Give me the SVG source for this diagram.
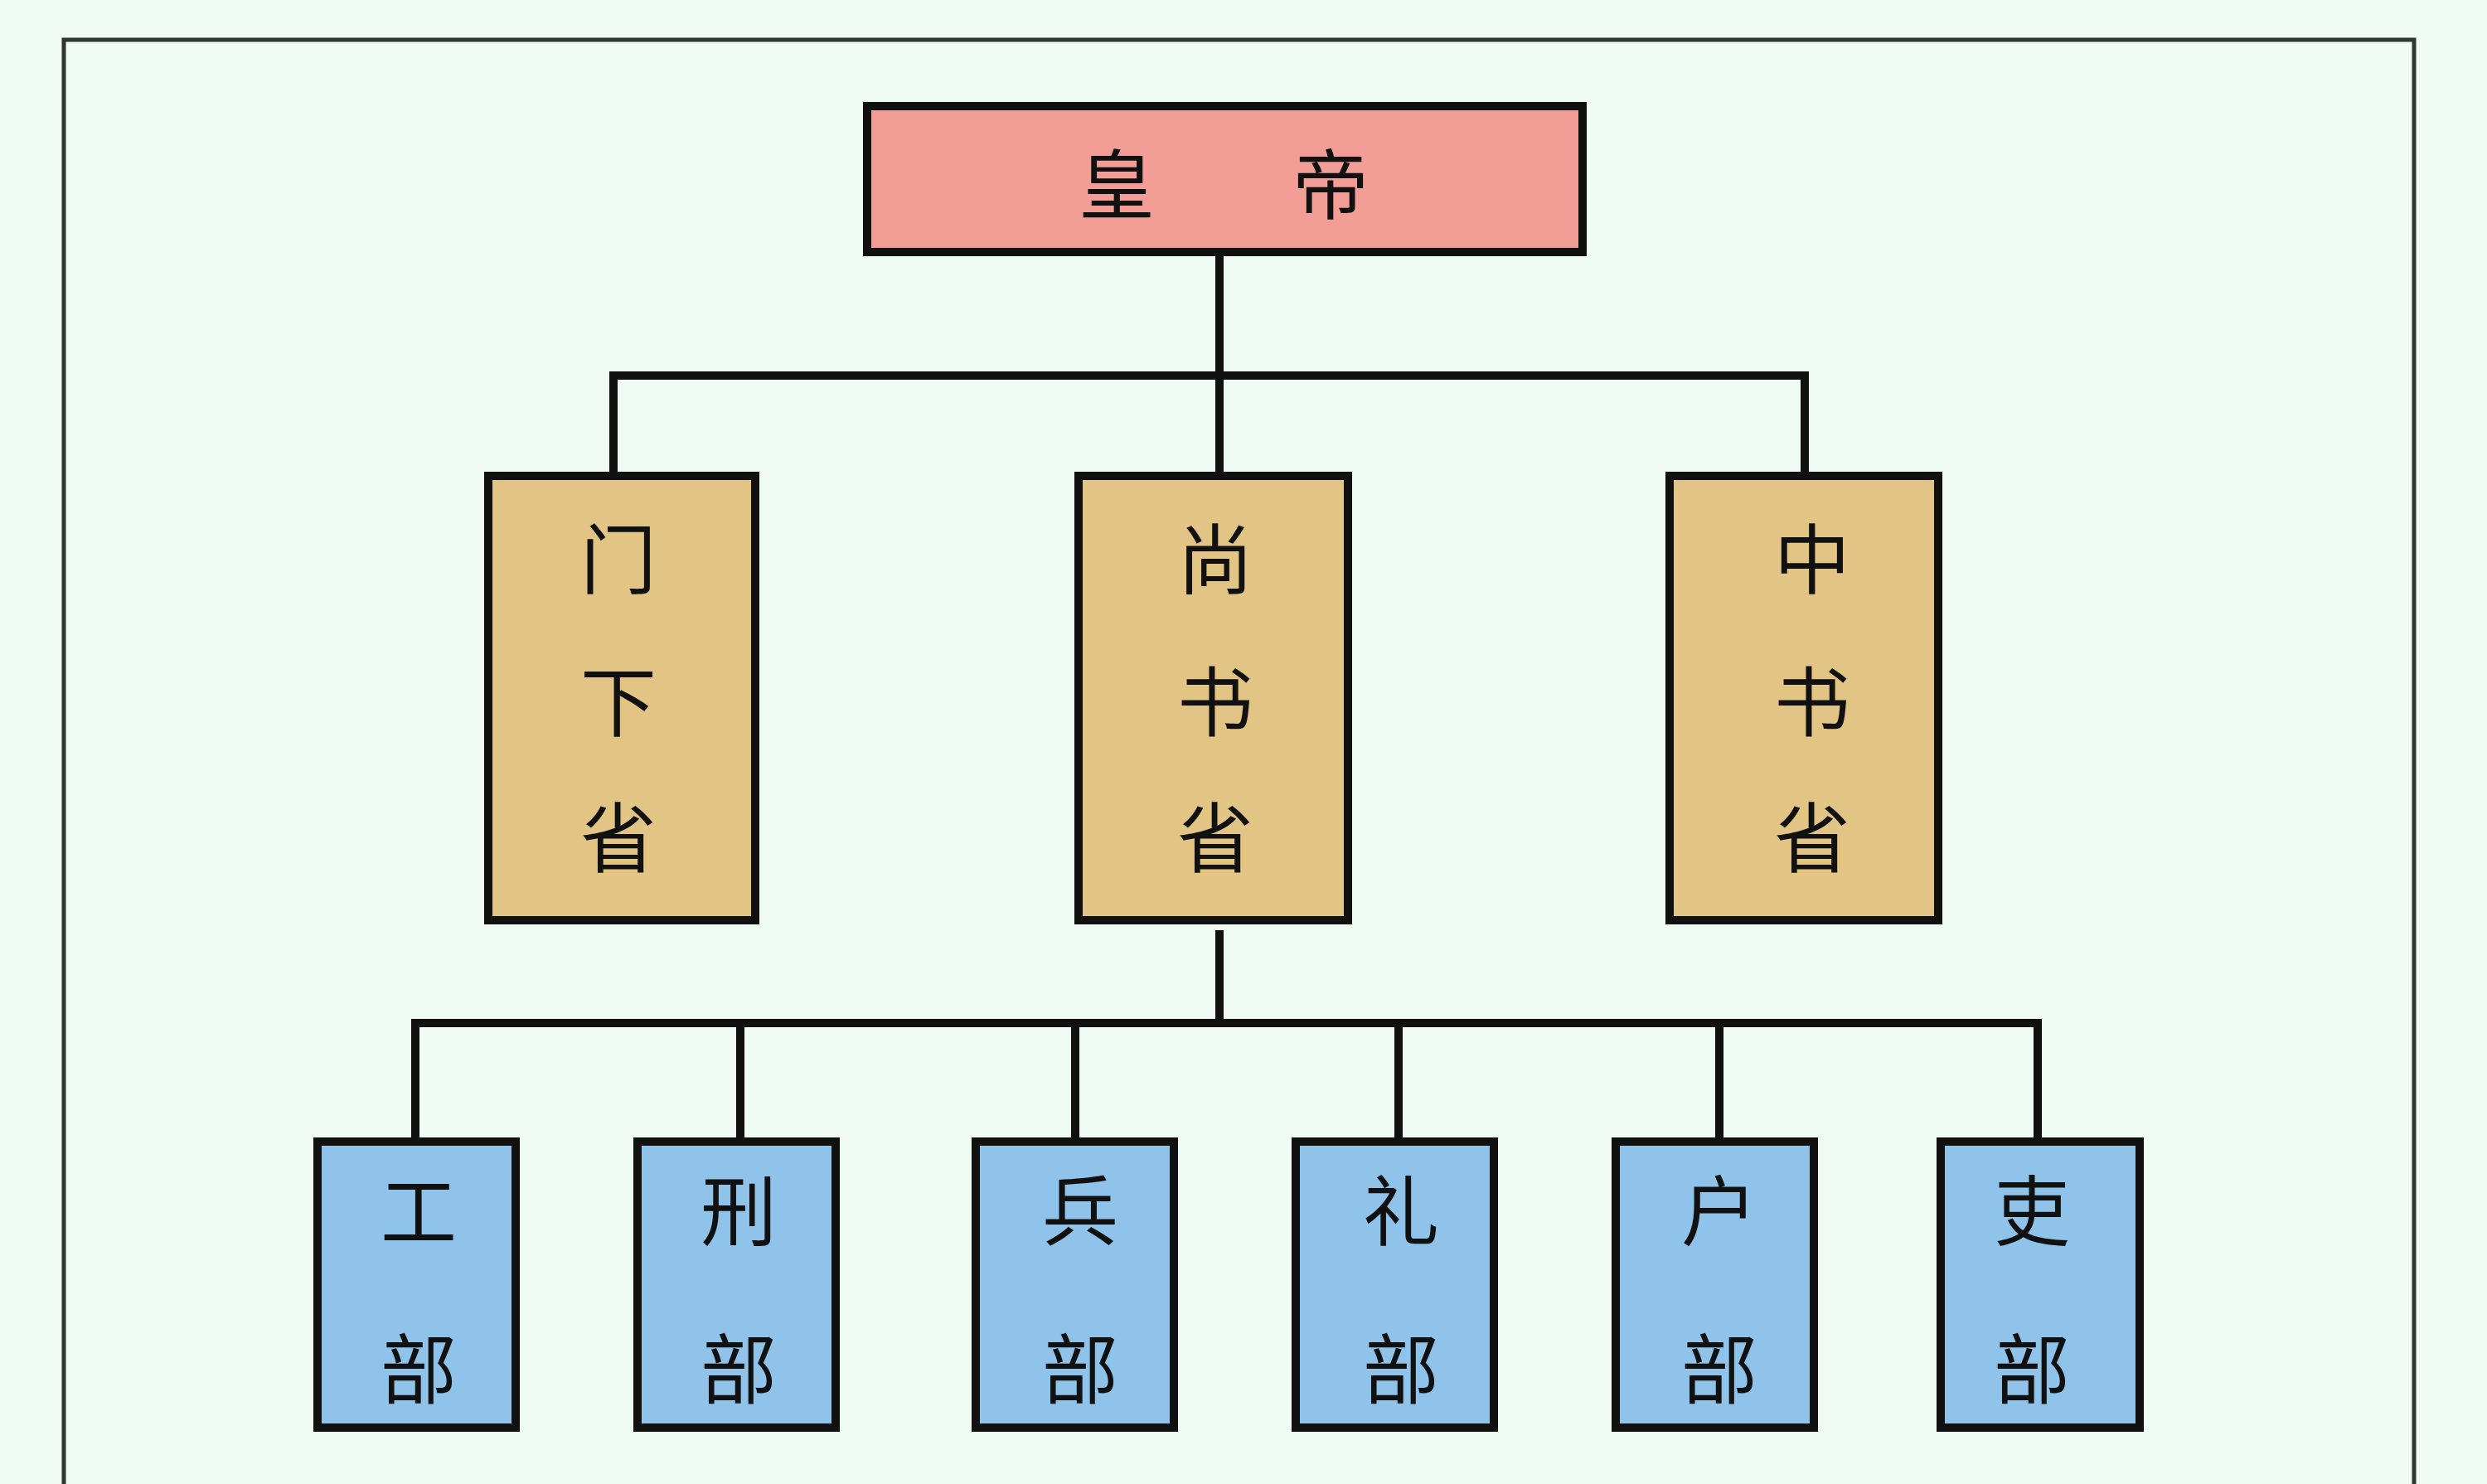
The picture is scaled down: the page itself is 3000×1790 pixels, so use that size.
<svg xmlns="http://www.w3.org/2000/svg" width="3000" height="1790" viewBox="0 0 3000 1790">
<style>
.b{stroke:#111;stroke-width:10}
.top{fill:#f29d96}.mid{fill:#e2c584}.low{fill:#8fc3ea}
text{font-family:"Noto Sans CJK SC","Noto Sans CJK TC",sans-serif;font-size:92px;fill:#111;text-anchor:middle;dominant-baseline:central}
.c{fill:none;stroke:#111;stroke-width:10}
</style>
<rect width="3000" height="1790" fill="#eefaf2"/>
<path d="M77 1790V48H2912V1790" fill="none" stroke="#333" stroke-width="5"/>
<g id="connectors" class="c">
<path d="M1471 304V574M740 574V453H2177V574"/>
<path d="M1471 1122V1234M501 1377V1234H2458V1377M893 1234V1377M1297 1234V1377M1687 1234V1377M2074 1234V1377"/>
</g>
<g id="huangdi"><rect class="b top" x="1046" y="128" width="863" height="176"/><text x="1347" y="216">皇</text><text x="1605" y="216">帝</text></g>
<g id="menxia"><rect class="b mid" x="589" y="574" width="322" height="536"/><text x="746" y="668">门</text><text x="746" y="840">下</text><text x="746" y="1004">省</text></g>
<g id="shangshu"><rect class="b mid" x="1301" y="574" width="325" height="536"/><text x="1466" y="668">尚</text><text x="1466" y="840">书</text><text x="1466" y="1004">省</text></g>
<g id="zhongshu"><rect class="b mid" x="2014" y="574" width="324" height="536"/><text x="2186" y="668">中</text><text x="2186" y="840">书</text><text x="2186" y="1004">省</text></g>
<g id="gong"><rect class="b low" x="383" y="1377" width="239" height="345"/><text x="505" y="1454">工</text><text x="505" y="1645">部</text></g>
<g id="xing"><rect class="b low" x="769" y="1377" width="239" height="345"/><text x="891" y="1454">刑</text><text x="891" y="1645">部</text></g>
<g id="bing"><rect class="b low" x="1177" y="1377" width="239" height="345"/><text x="1303" y="1454">兵</text><text x="1303" y="1645">部</text></g>
<g id="li"><rect class="b low" x="1563" y="1377" width="239" height="345"/><text x="1690" y="1454">礼</text><text x="1690" y="1645">部</text></g>
<g id="hu"><rect class="b low" x="1949" y="1377" width="239" height="345"/><text x="2074" y="1454">户</text><text x="2074" y="1645">部</text></g>
<g id="libu"><rect class="b low" x="2341" y="1377" width="240" height="345"/><text x="2451" y="1454">吏</text><text x="2451" y="1645">部</text></g>
</svg>
